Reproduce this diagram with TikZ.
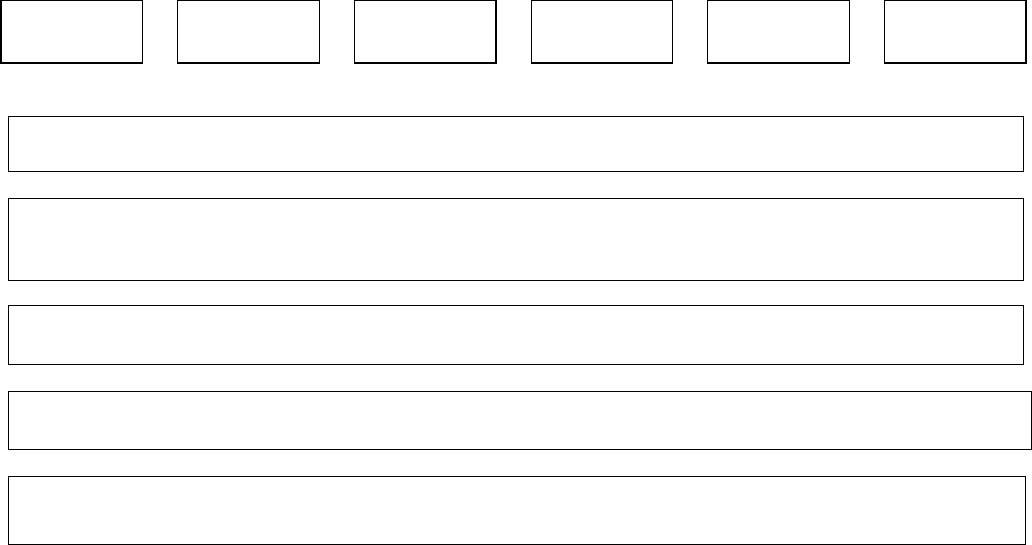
\documentclass[tikz,border=0pt]{standalone}
\usepackage{pgf,tikz}
\usetikzlibrary{positioning}

\begin{document}
\begin{tikzpicture}[x=1pt,y=-1pt,node distance=34pt]
    \tikzstyle{cell}=[rectangle, draw, line width=1.2pt, inner sep=0pt, minimum width=141.5pt, minimum height=62.5pt]
    \tikzstyle{bar}=[rectangle, draw, line width=1.2pt, inner sep=0pt, anchor=north west]

    \useasboundingbox (0,0) rectangle (1032,545);

    % top row of cells
    \node[cell]              (c1) at (71.75,31.75) {};
    \node[cell, right=of c1] (c2) {};
    \node[cell, right=of c2] (c3) {};
    \node[cell, right=of c3] (c4) {};
    \node[cell, right=of c4] (c5) {};
    \node[cell, right=of c5] (c6) {};

    % wide bars
    \node[bar, minimum width=1015pt, minimum height=55pt] (r1) at (8,116) {};
    \node[bar, minimum width=1015pt, minimum height=82pt] (r2) at (8,198) {};
    \node[bar, minimum width=1015pt, minimum height=59pt] (r3) at (8,305) {};
    \node[bar, minimum width=1023pt, minimum height=58pt] (r4) at (8,391) {};
    \node[bar, minimum width=1017pt, minimum height=68pt] (r5) at (8,476) {};

\end{tikzpicture}
\end{document}
